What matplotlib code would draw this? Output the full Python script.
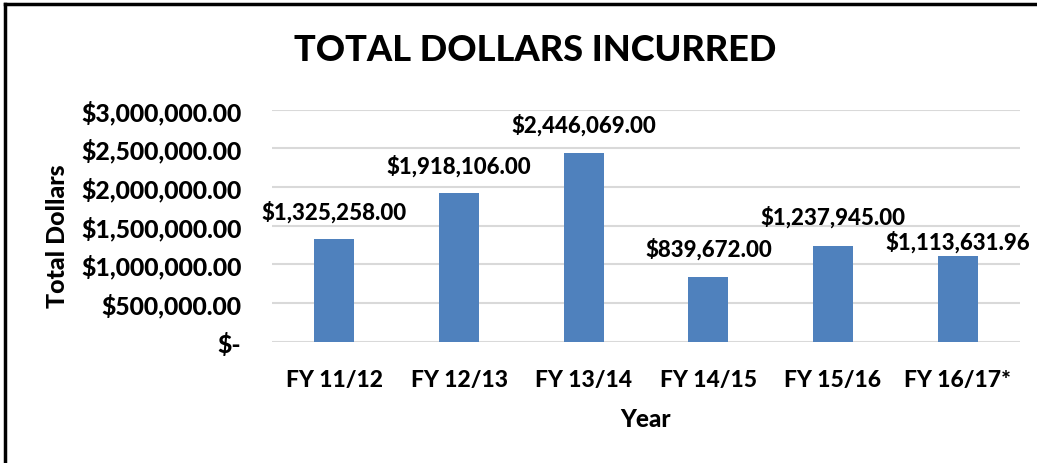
import matplotlib.pyplot as plt
from matplotlib.ticker import FuncFormatter

# data
years = ['FY 11/12', 'FY 12/13', 'FY 13/14', 'FY 14/15', 'FY 15/16', 'FY 16/17*']
dollars = [1325258.00, 1918106.00, 2446069.00, 839672.00, 1237945.00, 1113631.96]
yticks = [0, 500000, 1000000, 1500000, 2000000, 2500000, 3000000]

# label gap above each bar (points); the last label sits lower in the original
label_gap = [15, 15, 15, 15, 16, 5]

plt.rcParams['font.family'] = ['Lato', 'DejaVu Sans']
W = 'black'

fig = plt.figure(figsize=(10.37, 4.64), dpi=100)
ax = fig.add_axes([0.2623, 0.2614, 0.7213, 0.5])

x = range(len(years))
ax.bar(x, dollars, width=0.32, color='#4f81bd', zorder=3)

for xi, v, g in zip(x, dollars, label_gap):
    ax.annotate('${:,.2f}'.format(v), (xi, v), xytext=(0, g), textcoords='offset points',
                ha='center', va='baseline', fontsize=16, fontweight=W)

def money(v, pos):
    if v == 0:
        return '$-'
    return '${:,.2f}'.format(v)

ax.set_ylim(0, 3000000)
ax.set_xlim(-0.5, len(years) - 0.5)
ax.set_yticks(yticks)
ax.yaxis.set_major_formatter(FuncFormatter(money))
ax.set_xticks(list(x))
ax.set_xticklabels(years)
ax.tick_params(axis='y', length=0, labelsize=17.8, pad=22)
ax.tick_params(axis='x', length=0, labelsize=16.5, pad=20)
for lab in ax.get_yticklabels() + ax.get_xticklabels():
    lab.set_fontweight(W)

ax.grid(axis='y', color='#d9d9d9', linewidth=1.5, zorder=0)
for s in ax.spines.values():
    s.set_visible(False)

ax.set_xlabel('Year', fontsize=17.5, fontweight=W, labelpad=12)
fig.text(0.055, 0.49, 'Total Dollars', rotation=90, ha='center', va='center',
         fontsize=18, fontweight=W)
fig.text(0.516, 0.892, 'TOTAL DOLLARS INCURRED', ha='center', va='center',
         fontsize=26, fontweight=W)

# frame lines on the left and top edges
fig.add_artist(plt.Line2D([0.005, 0.005], [0, 0.989], color='black', linewidth=2.5,
                          transform=fig.transFigure))
fig.add_artist(plt.Line2D([0.005, 1], [0.989, 0.989], color='black', linewidth=2.5,
                          transform=fig.transFigure))

fig.savefig('out.png', dpi=100)
